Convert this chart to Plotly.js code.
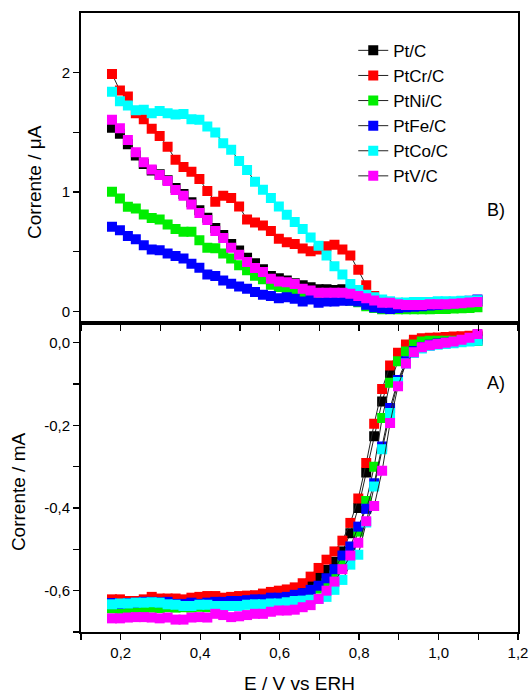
<!DOCTYPE html>
<html>
<head>
<meta charset="utf-8">
<script src="https://cdn.plot.ly/plotly-3.0.1.min.js"></script>
<style>html,body{margin:0;padding:0;background:#fff;}#chart{width:530px;height:694px;}</style>
</head>
<body>
<div id="chart"></div>
<script>
// Potential E / V vs ERH (shared by all series)
const potential = [0.178,0.198,0.218,0.238,0.258,0.278,0.298,0.318,0.338,0.358,0.378,0.398,0.418,0.438,0.458,0.478,0.498,0.518,0.538,0.558,0.578,0.598,0.618,0.638,0.658,0.678,0.698,0.718,0.738,0.758,0.778,0.798,0.818,0.838,0.858,0.878,0.898,0.918,0.938,0.958,0.978,0.998,1.018,1.038,1.058,1.078,1.098];

const seriesNames = ["Pt/C","PtCr/C","PtNi/C","PtFe/C","PtCo/C","PtV/C"];
const seriesColors = ["#000000","#ff0000","#00ee00","#0000ff","#00ffff","#ff00ff"];

// Panel B: ring current / µA
const ringPt   = [1.54,1.489,1.40,1.307,1.236,1.18,1.15,1.10,1.035,0.985,0.915,0.848,0.785,0.70,0.64,0.565,0.51,0.45,0.405,0.354,0.298,0.279,0.259,0.237,0.22,0.203,0.186,0.186,0.181,0.186,0.17,0.14,0.11,0.09,0.075,0.07,0.065,0.065,0.065,0.07,0.07,0.07,0.075,0.075,0.08,0.085,0.09];
const ringPtCr = [1.99,1.85,1.80,1.66,1.61,1.53,1.47,1.38,1.27,1.21,1.17,1.11,1.01,0.92,0.97,0.95,0.88,0.77,0.745,0.72,0.675,0.61,0.58,0.565,0.527,0.504,0.52,0.546,0.56,0.52,0.47,0.35,0.22,0.13,0.09,0.07,0.065,0.065,0.07,0.07,0.075,0.075,0.08,0.08,0.085,0.085,0.09];
const ringPtNi = [1.003,0.947,0.877,0.863,0.812,0.784,0.77,0.728,0.69,0.667,0.667,0.597,0.535,0.53,0.485,0.443,0.387,0.345,0.30,0.27,0.224,0.205,0.18,0.163,0.146,0.135,0.12,0.112,0.112,0.10,0.09,0.078,0.045,0.03,0.02,0.018,0.018,0.018,0.02,0.02,0.02,0.022,0.022,0.025,0.028,0.03,0.035];
const ringPtFe = [0.709,0.68,0.633,0.605,0.555,0.52,0.513,0.485,0.465,0.443,0.40,0.367,0.31,0.297,0.26,0.233,0.21,0.19,0.163,0.14,0.129,0.112,0.12,0.106,0.084,0.10,0.073,0.084,0.084,0.09,0.09,0.084,0.056,0.036,0.028,0.022,0.03,0.035,0.04,0.045,0.05,0.055,0.06,0.07,0.08,0.09,0.10];
const ringPtCo = [1.84,1.76,1.725,1.685,1.69,1.66,1.68,1.66,1.65,1.655,1.61,1.605,1.55,1.50,1.41,1.355,1.26,1.185,1.087,1.02,0.95,0.88,0.81,0.75,0.69,0.62,0.55,0.47,0.38,0.31,0.23,0.18,0.14,0.12,0.10,0.085,0.075,0.075,0.08,0.08,0.08,0.085,0.085,0.085,0.09,0.09,0.095];
const ringPtV  = [1.605,1.535,1.437,1.333,1.25,1.19,1.143,1.092,1.017,0.969,0.896,0.826,0.767,0.675,0.616,0.535,0.476,0.414,0.364,0.33,0.275,0.252,0.246,0.23,0.19,0.176,0.157,0.157,0.157,0.157,0.148,0.129,0.112,0.092,0.073,0.073,0.06,0.055,0.055,0.055,0.06,0.06,0.06,0.065,0.07,0.075,0.08];

// Panel A: disk current / mA
const diskPt   = [-0.636,-0.637,-0.636,-0.635,-0.634,-0.634,-0.633,-0.633,-0.632,-0.632,-0.631,-0.630,-0.629,-0.628,-0.627,-0.626,-0.624,-0.622,-0.620,-0.618,-0.615,-0.612,-0.607,-0.600,-0.594,-0.582,-0.566,-0.55,-0.53,-0.505,-0.461,-0.40,-0.314,-0.226,-0.142,-0.078,-0.04,-0.015,0.0,0.005,0.008,0.009,0.01,0.011,0.012,0.013,0.015];
const diskPtCr = [-0.621,-0.621,-0.625,-0.625,-0.621,-0.615,-0.619,-0.619,-0.619,-0.621,-0.617,-0.615,-0.613,-0.613,-0.617,-0.615,-0.613,-0.612,-0.611,-0.607,-0.603,-0.600,-0.597,-0.592,-0.582,-0.566,-0.545,-0.525,-0.505,-0.479,-0.436,-0.377,-0.291,-0.196,-0.112,-0.055,-0.024,-0.004,0.007,0.011,0.012,0.013,0.014,0.015,0.016,0.017,0.018];
const diskPtNi = [-0.643,-0.644,-0.643,-0.642,-0.643,-0.641,-0.642,-0.640,-0.641,-0.640,-0.641,-0.639,-0.640,-0.638,-0.637,-0.636,-0.635,-0.633,-0.632,-0.630,-0.628,-0.626,-0.622,-0.618,-0.613,-0.605,-0.595,-0.582,-0.563,-0.535,-0.51,-0.457,-0.383,-0.30,-0.182,-0.097,-0.045,-0.021,-0.004,0.003,0.005,0.005,0.005,0.005,0.005,0.005,0.004];
const diskPtFe = [-0.630,-0.632,-0.630,-0.629,-0.627,-0.627,-0.628,-0.627,-0.632,-0.632,-0.629,-0.632,-0.629,-0.627,-0.627,-0.625,-0.625,-0.623,-0.621,-0.621,-0.617,-0.617,-0.615,-0.61,-0.606,-0.598,-0.588,-0.57,-0.548,-0.515,-0.493,-0.445,-0.402,-0.34,-0.251,-0.158,-0.09,-0.045,-0.02,-0.01,-0.005,-0.002,0.0,0.002,0.004,0.006,0.008];
const diskPtCo = [-0.633,-0.631,-0.631,-0.629,-0.629,-0.628,-0.629,-0.633,-0.634,-0.637,-0.637,-0.634,-0.634,-0.637,-0.637,-0.637,-0.637,-0.634,-0.633,-0.633,-0.631,-0.631,-0.628,-0.625,-0.624,-0.622,-0.62,-0.615,-0.598,-0.574,-0.537,-0.513,-0.435,-0.348,-0.258,-0.17,-0.095,-0.05,-0.025,-0.014,-0.008,-0.005,-0.003,-0.001,0.001,0.003,0.005];
const diskPtV  = [-0.667,-0.667,-0.665,-0.664,-0.664,-0.665,-0.667,-0.665,-0.670,-0.670,-0.665,-0.664,-0.665,-0.656,-0.659,-0.664,-0.662,-0.659,-0.656,-0.656,-0.651,-0.648,-0.648,-0.646,-0.64,-0.635,-0.62,-0.60,-0.578,-0.548,-0.515,-0.484,-0.432,-0.395,-0.31,-0.194,-0.105,-0.05,-0.023,-0.011,-0.006,-0.003,0.0,0.003,0.007,0.012,0.021];

// Tick labels
const xTickVals = [0.1,0.2,0.3,0.4,0.5,0.6,0.7,0.8,0.9,1.0,1.1,1.2];
const xTickText = ["","0,2","","0,4","","0,6","","0,8","","1,0","","1,2"];
const yATickVals = [-0.7,-0.6,-0.5,-0.4,-0.3,-0.2,-0.1,0.0];
const yATickText = ["","-0,6","","-0,4","","-0,2","","0,0"];
const yBTickVals = [0,0.5,1,1.5,2];
const yBTickText = ["0","","1","","2"];

const ringData = [ringPt, ringPtCr, ringPtNi, ringPtFe, ringPtCo, ringPtV];
const diskData = [diskPt, diskPtCr, diskPtNi, diskPtFe, diskPtCo, diskPtV];

const FONT = "Liberation Sans, Arial, sans-serif";
const MSIZE = 10;
const traces = [];
for (let i = 0; i < seriesNames.length; i++) {
  traces.push({
    x: potential, y: ringData[i], xaxis: "x2", yaxis: "y2",
    type: "scatter", mode: "lines+markers", name: seriesNames[i],
    line: {color: "#222", width: 1},
    marker: {symbol: "square", size: MSIZE, color: seriesColors[i], line: {width: 0}},
    showlegend: true, legendgroup: seriesNames[i]
  });
}
for (let i = 0; i < seriesNames.length; i++) {
  traces.push({
    x: potential, y: diskData[i], xaxis: "x", yaxis: "y",
    type: "scatter", mode: "lines+markers", name: seriesNames[i],
    line: {color: "#222", width: 1},
    marker: {symbol: "square", size: MSIZE, color: seriesColors[i], line: {width: 0}},
    showlegend: false, legendgroup: seriesNames[i]
  });
}

const tickFont = {family: FONT, size: 15, color: "#000"};
const commonX = {
  range: [0.1, 1.2], tickmode: "array", tickvals: xTickVals,
  ticks: "outside", ticklen: 6, tickwidth: 1.3, tickcolor: "#000",
  showline: true, linecolor: "#000", linewidth: 2, mirror: true,
  showgrid: false, zeroline: false, tickfont: tickFont
};

const layout = {
  width: 530, height: 694,
  margin: {l: 81, r: 12, t: 13, b: 62},
  paper_bgcolor: "#fff", plot_bgcolor: "#fff",
  font: {family: FONT, color: "#000"},
  showlegend: true,
  legend: {
    x: 0.623, y: 0.968, xanchor: "left", yanchor: "top",
    bgcolor: "rgba(0,0,0,0)", font: {family: FONT, size: 17, color: "#000"},
    traceorder: "normal", tracegroupgap: 0
  },
  xaxis: Object.assign({}, commonX, {
    anchor: "y", ticktext: xTickText, showticklabels: true,
    title: {text: "E / V vs ERH", font: {family: FONT, size: 19}, standoff: 18}
  }),
  xaxis2: Object.assign({}, commonX, {
    anchor: "y2", ticktext: xTickText, showticklabels: false
  }),
  xaxis3: {
    overlaying: "x2", anchor: "y2", side: "top", range: [0.1, 1.2],
    tickmode: "array", tickvals: xTickVals, ticks: "inside", ticklen: 6, tickwidth: 1.3,
    tickcolor: "#000", showticklabels: false, showline: false, showgrid: false, zeroline: false
  },
  yaxis: {
    domain: [0, 0.5], anchor: "x", range: [-0.70, 0.049],
    tickmode: "array", tickvals: yATickVals, ticktext: yATickText,
    ticks: "outside", ticklen: 6, tickwidth: 1.3, tickcolor: "#000",
    showline: true, linecolor: "#000", linewidth: 2, mirror: true,
    showgrid: false, zeroline: false, tickfont: tickFont
  },
  yaxis2: {
    domain: [0.5, 1], anchor: "x2", range: [-0.092, 2.5],
    tickmode: "array", tickvals: yBTickVals, ticktext: yBTickText,
    ticks: "outside", ticklen: 6, tickwidth: 1.3, tickcolor: "#000",
    showline: true, linecolor: "#000", linewidth: 2, mirror: true,
    showgrid: false, zeroline: false, tickfont: tickFont
  },
  yaxis3: {
    overlaying: "y", anchor: "x", side: "right", range: [-0.70, 0.049],
    tickmode: "array", tickvals: yATickVals, ticks: "inside", ticklen: 6, tickwidth: 1.3,
    tickcolor: "#000", showticklabels: false, showline: false, showgrid: false, zeroline: false
  },
  yaxis4: {
    overlaying: "y2", anchor: "x2", side: "right", range: [-0.092, 2.5],
    tickmode: "array", tickvals: yBTickVals, ticks: "inside", ticklen: 6, tickwidth: 1.3,
    tickcolor: "#000", showticklabels: false, showline: false, showgrid: false, zeroline: false
  },
  annotations: [
    {text: "Corrente / \u03bcA", xref: "paper", yref: "paper", x: 0, y: 0.727,
     xshift: -46, textangle: -90, showarrow: false, xanchor: "center", yanchor: "middle",
     font: {family: FONT, size: 19, color: "#000"}},
    {text: "Corrente / mA", xref: "paper", yref: "paper", x: 0, y: 0.226,
     xshift: -63, textangle: -90, showarrow: false, xanchor: "center", yanchor: "middle",
     font: {family: FONT, size: 19, color: "#000"}},
    {text: "B)", xref: "paper", yref: "paper", x: 0.949, y: 0.682, showarrow: false,
     xanchor: "center", yanchor: "middle", font: {family: FONT, size: 18, color: "#000"}},
    {text: "A)", xref: "paper", yref: "paper", x: 0.949, y: 0.402, showarrow: false,
     xanchor: "center", yanchor: "middle", font: {family: FONT, size: 18, color: "#000"}}
  ]
};

Plotly.newPlot("chart", traces, layout, {displayModeBar: false, staticPlot: true});
</script>
</body>
</html>
